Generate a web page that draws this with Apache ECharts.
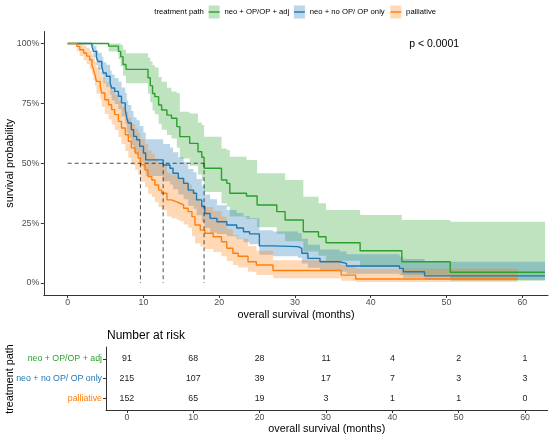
<!DOCTYPE html>
<html><head><meta charset="utf-8">
<script src="https://cdn.jsdelivr.net/npm/echarts@6/dist/echarts.min.js"></script>
<style>html,body{margin:0;padding:0;background:#fff}#c{width:550px;height:434px}</style>
</head><body><div id="c"></div>
<script>
const groups = ['neo + OP/OP + adj', 'neo + no OP/ OP only', 'palliative'];
const colors = ['#2ca02c', '#1f77b4', '#ff7f0e'];

const greenT  = [0, 5.4, 6.7, 7.0, 7.3, 7.7, 10.6, 10.9, 11.2, 11.5, 12.0, 12.4, 13.1, 13.7, 14.4, 14.8, 16.1, 17.2, 17.7, 18.0, 20.3, 21.0, 21.4, 23.6, 25.0, 27.6, 28.7, 31.1, 33.1, 34.1, 38.6, 44.1, 50.5];
const greenS  = [100, 98.9, 96.7, 94.5, 91.2, 89.2, 85.7, 82.4, 79.1, 77.8, 74.3, 72.2, 70.1, 68.8, 65.3, 61.1, 58.3, 54.8, 52.5, 47.9, 43.0, 41.6, 37.5, 36.3, 32.6, 29.8, 26.3, 21.4, 19.3, 16.8, 13.5, 8.9, 4.5];
const greenLo = [100, 96.7, 93.5, 90.5, 86.5, 83.4, 79.0, 75.5, 72.0, 70.5, 66.5, 64.0, 61.8, 60.3, 56.5, 52.0, 49.0, 45.3, 42.8, 38.0, 33.2, 31.8, 27.8, 26.7, 23.3, 20.6, 17.4, 13.2, 11.4, 9.3, 6.6, 3.5, 1.0];
const greenHi = [100, 100, 100, 99.5, 97.5, 95.9, 94, 92.5, 91, 90, 86, 84, 81.5, 80, 79.2, 71.5, 70.8, 67, 66, 61.1, 56.2, 55.5, 52.7, 51.4, 45.8, 45.8, 43, 36, 33.3, 30.5, 28.4, 26.3, 25.6];
const greenEnd = 63.0;

const blueT  = [0, 3.2, 3.4, 3.8, 4.0, 4.5, 4.7, 5.1, 5.6, 5.8, 6.2, 6.7, 7.1, 7.6, 7.8, 8.0, 8.4, 8.7, 9.1, 9.5, 10.0, 10.3, 12.6, 13.5, 13.9, 14.6, 15.3, 15.9, 16.6, 17.0, 17.7, 18.1, 18.8, 19.7, 21.0, 22.3, 23.2, 24.0, 25.3, 27.1, 30.4, 30.9, 31.7, 33.3, 35.9, 36.8, 43.8, 44.3, 47.1];
const blueS  = [100, 98.8, 96.7, 94.0, 92.5, 90.5, 87.7, 86.3, 83.5, 81.4, 80.0, 78.0, 75.2, 72.4, 68.9, 66.8, 64.0, 61.2, 59.8, 57.1, 54.3, 51.4, 49.3, 47.9, 45.8, 43.7, 41.6, 38.8, 37.5, 34.7, 31.9, 29.0, 27.0, 25.6, 24.2, 23.0, 21.4, 20.5, 15.5, 15.2, 14.5, 12.4, 10.3, 8.9, 8.2, 7.1, 6.1, 4.7, 3.0];
const blueLo = [100, 97.3, 94.3, 90.9, 89.0, 86.6, 83.4, 81.8, 78.6, 76.2, 74.7, 72.5, 69.5, 66.4, 62.7, 60.5, 57.6, 54.7, 53.2, 50.4, 47.6, 44.7, 42.5, 41.1, 39.1, 37.0, 35.0, 32.3, 31.0, 28.3, 25.6, 23.0, 21.0, 20.5, 19.5, 18.3, 17.0, 16.2, 11.8, 11.2, 10.5, 8.2, 6.4, 5.3, 4.7, 3.9, 3.2, 2.2, 1.3];
const blueHi = [100, 100, 99.1, 97.2, 96.1, 94.5, 92.2, 91.1, 88.7, 87.0, 85.6, 84.0, 81.6, 79.3, 76.2, 74.3, 71.8, 69.2, 67.9, 65.5, 62.8, 60.0, 58.0, 56.6, 54.6, 52.5, 50.4, 47.6, 46.2, 43.4, 40.6, 37.0, 35.0, 32.5, 30.5, 29.2, 28.0, 27.0, 22.0, 21.5, 20.8, 18.5, 16.0, 14.0, 13.2, 12.0, 11.0, 10.0, 8.9];
const blueEnd = 63.0;

const orangeT  = [0, 1.2, 1.6, 2.1, 2.5, 2.9, 3.2, 3.4, 3.6, 3.8, 4.3, 4.5, 4.9, 5.4, 5.8, 6.2, 6.7, 7.1, 7.6, 8.0, 8.4, 8.9, 9.3, 9.6, 10.2, 10.6, 11.1, 11.5, 12.0, 12.4, 13.1, 13.7, 14.4, 14.8, 15.3, 15.9, 16.4, 16.8, 17.5, 18.1, 19.2, 20.3, 21.0, 21.8, 22.5, 23.8, 24.9, 27.1, 36.1, 38.0];
const orangeS  = [100, 98.8, 97.4, 96.0, 94.7, 93.2, 91.1, 89.1, 87.0, 84.2, 82.1, 79.3, 76.5, 74.4, 72.4, 70.3, 67.5, 64.7, 61.9, 59.2, 56.4, 54.3, 52.2, 49.4, 47.2, 44.4, 43.0, 40.9, 38.8, 37.5, 34.7, 33.9, 33.3, 32.6, 31.2, 29.8, 27.7, 24.2, 22.1, 20.8, 19.3, 17.2, 14.5, 12.4, 11.2, 8.9, 7.5, 5.2, 3.3, 1.7];
const orangeLo = [100, 96.6, 94.8, 93.0, 91.3, 89.4, 86.9, 84.5, 82.2, 79.0, 76.7, 73.6, 70.6, 68.3, 66.2, 63.9, 61.0, 58.0, 55.1, 52.3, 49.4, 47.3, 45.2, 42.3, 40.1, 37.3, 35.9, 33.8, 31.7, 30.4, 27.8, 27.0, 26.4, 25.8, 24.4, 23.1, 19.5, 16.5, 15.2, 14.2, 13.0, 11.2, 9.2, 7.5, 6.5, 4.7, 3.4, 2.0, 1.0, 0.4];
const orangeHi = [100, 100, 100, 99.2, 98.2, 97.1, 95.5, 94.0, 92.3, 90.0, 88.4, 86.1, 83.8, 82.0, 80.3, 78.5, 76.1, 73.7, 71.3, 68.9, 66.4, 64.5, 62.6, 60.0, 58.0, 55.4, 54.0, 52.0, 50.0, 48.8, 46.0, 45.2, 44.6, 43.9, 42.5, 41.1, 38.9, 35.3, 33.1, 31.7, 30.1, 27.8, 22.5, 20.0, 18.5, 15.5, 13.5, 9.5, 7.5, 6.0];
const orangeEnd = 59.4;

const medians = [18.0, 12.6, 9.6];
const pValueText = 'p < 0.0001';

const riskTimes  = [0, 10, 20, 30, 40, 50, 60];
const riskGreen  = [91, 68, 28, 11, 4, 2, 1];
const riskBlue   = [215, 107, 39, 17, 7, 3, 3];
const riskOrange = [152, 65, 19, 3, 1, 1, 0];

const xTicks = [0, 10, 20, 30, 40, 50, 60];
const yTicks = [0, 25, 50, 75, 100];

const FF = "'Liberation Sans', Arial, Helvetica, sans-serif";
const curves = [
  {t: greenT, s: greenS, lo: greenLo, hi: greenHi, end: greenEnd},
  {t: blueT, s: blueS, lo: blueLo, hi: blueHi, end: blueEnd},
  {t: orangeT, s: orangeS, lo: orangeLo, hi: orangeHi, end: orangeEnd}
];
const risk = [riskGreen, riskBlue, riskOrange];

function stepData(c) {
  const d = c.t.map((v, i) => [v, c.s[i]]);
  d.push([c.end, c.s[c.s.length - 1]]);
  return d;
}
function bandSeries(c, color) {
  return {
    type: 'custom', xAxisIndex: 0, yAxisIndex: 0, silent: true, z: 1,
    data: c.t.map((v, i) => [v, c.lo[i], c.hi[i]]),
    renderItem: function (params, api) {
      if (params.dataIndex !== 0) return null;
      const n = c.t.length, pts = [];
      for (let i = 0; i < n; i++) {
        const nx = i < n - 1 ? c.t[i + 1] : c.end;
        pts.push(api.coord([c.t[i], c.hi[i]]));
        pts.push(api.coord([nx, c.hi[i]]));
      }
      for (let i = n - 1; i >= 0; i--) {
        const nx = i < n - 1 ? c.t[i + 1] : c.end;
        pts.push(api.coord([nx, c.lo[i]]));
        pts.push(api.coord([c.t[i], c.lo[i]]));
      }
      return {type: 'polygon', shape: {points: pts}, style: {fill: color, opacity: 0.3}};
    }
  };
}

const series = [];
curves.forEach((c, k) => series.push(bandSeries(c, colors[k])));
curves.forEach((c, k) => series.push({
  type: 'line', name: groups[k], xAxisIndex: 0, yAxisIndex: 0, step: 'end',
  data: stepData(c), showSymbol: false, symbol: 'none', z: 3,
  lineStyle: {color: colors[k], width: 1.4}, itemStyle: {color: colors[k]}, silent: true
}));
const dashStyle = {color: '#222', width: 0.8, type: [4, 3]};
series.push({
  type: 'line', xAxisIndex: 0, yAxisIndex: 0, symbol: 'none', z: 4, silent: true,
  data: [[0, 50], [Math.max(...medians), 50]], lineStyle: dashStyle
});
medians.forEach(m => series.push({
  type: 'line', xAxisIndex: 0, yAxisIndex: 0, symbol: 'none', z: 4, silent: true,
  data: [[m, 50], [m, 0]], lineStyle: dashStyle
}));
const riskRows = [];
risk.forEach((arr, k) => arr.forEach((v, i) => riskRows.push([riskTimes[i], k + 1, v])));
series.push({
  type: 'custom', xAxisIndex: 1, yAxisIndex: 1, silent: true, data: riskRows,
  renderItem: function (params, api) {
    const p = api.coord([api.value(0), api.value(1)]);
    return {type: 'text', x: p[0], y: p[1], style: {
      text: String(api.value(2)), align: 'center', verticalAlign: 'middle',
      fontSize: 8.8, fontFamily: FF, fill: '#1a1a1a'}};
  }
});

const axisLine = {show: true, onZero: false, lineStyle: {color: '#333', width: 1}};
const axisTick = {show: true, length: 3, lineStyle: {color: '#333', width: 1}};
const lbl = {fontSize: 8.8, fontFamily: FF, color: '#4d4d4d'};

const legendKeyX = [208.6, 293.9, 390.3];
const graphic = [
  {type: 'text', x: 154.3, y: 12.3, style: {text: 'treatment path', fontSize: 7.7, fontFamily: FF, fill: '#000', align: 'left', verticalAlign: 'middle'}},
  {type: 'text', x: 409.2, y: 44, style: {text: pValueText, fontSize: 10.5, fontFamily: FF, fill: '#000', align: 'left', verticalAlign: 'middle'}},
  {type: 'text', x: 10, y: 163.3, rotation: Math.PI / 2, style: {text: 'survival probability', fontSize: 10.8, fontFamily: FF, fill: '#000', align: 'center', verticalAlign: 'middle'}},
  {type: 'text', x: 296, y: 315.4, style: {text: 'overall survival (months)', fontSize: 10.8, fontFamily: FF, fill: '#000', align: 'center', verticalAlign: 'middle'}},
  {type: 'text', x: 107, y: 335.8, style: {text: 'Number at risk', fontSize: 12, fontFamily: FF, fill: '#000', align: 'left', verticalAlign: 'middle'}},
  {type: 'text', x: 10.5, y: 379, rotation: Math.PI / 2, style: {text: 'treatment path', fontSize: 10.8, fontFamily: FF, fill: '#000', align: 'center', verticalAlign: 'middle'}},
  {type: 'text', x: 326.8, y: 429.5, style: {text: 'overall survival (months)', fontSize: 10.8, fontFamily: FF, fill: '#000', align: 'center', verticalAlign: 'middle'}}
];
groups.forEach((g, k) => {
  const x0 = legendKeyX[k];
  graphic.push({type: 'rect', shape: {x: x0, y: 5.5, width: 11, height: 13}, style: {fill: colors[k], opacity: 0.3}});
  graphic.push({type: 'line', shape: {x1: x0, y1: 12, x2: x0 + 11, y2: 12}, style: {stroke: colors[k], lineWidth: 1.4}});
  graphic.push({type: 'text', x: x0 + 15.8, y: 12.3, style: {text: g, fontSize: 7.7, fontFamily: FF, fill: '#000', align: 'left', verticalAlign: 'middle'}});
});

const chart = echarts.init(document.getElementById('c'), null, {renderer: 'canvas'});
chart.setOption({
  animation: false,
  backgroundColor: '#fff',
  grid: [
    {left: 43.83, top: 31.5, width: 504.2, height: 263.5},
    {left: 106.0, top: 347, width: 441.6, height: 63}
  ],
  xAxis: [
    {type: 'value', gridIndex: 0, min: -3.15, max: 63.4, axisLine, axisTick: Object.assign({customValues: xTicks}, axisTick),
     axisLabel: Object.assign({customValues: xTicks, margin: 3.5}, lbl), splitLine: {show: false}},
    {type: 'value', gridIndex: 1, min: -3.15, max: 63.4, axisLine, axisTick: Object.assign({customValues: riskTimes}, axisTick),
     axisLabel: Object.assign({customValues: riskTimes, margin: 3.5}, lbl), splitLine: {show: false}}
  ],
  yAxis: [
    {type: 'value', gridIndex: 0, min: -5, max: 105, axisLine, axisTick: Object.assign({customValues: yTicks}, axisTick),
     axisLabel: Object.assign({customValues: yTicks, margin: 4.5, formatter: v => v + '%'}, lbl), splitLine: {show: false}},
    {type: 'value', gridIndex: 1, min: 0.4, max: 3.6, inverse: true, axisLine, axisTick: Object.assign({customValues: [1, 2, 3]}, axisTick),
     axisLabel: Object.assign({}, lbl, {customValues: [1, 2, 3], margin: 4, formatter: v => groups[v - 1] || '', color: v => colors[v - 1] || '#4d4d4d'}),
     splitLine: {show: false}}
  ],
  graphic: graphic,
  series: series
});
</script>
</body></html>
